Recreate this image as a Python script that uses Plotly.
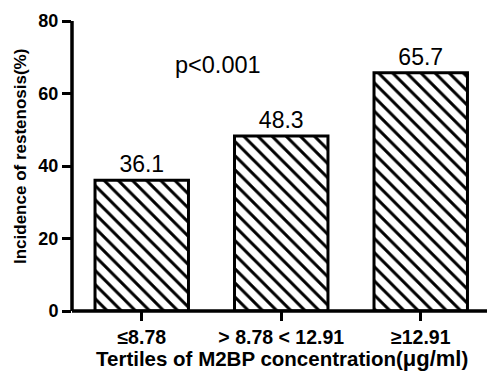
import plotly.graph_objects as go

categories = ["≤8.78", "> 8.78 < 12.91", "≥12.91"]
values = [36.1, 48.3, 65.7]
value_labels = ["36.1", "48.3", "65.7"]
y_ticks = [0, 20, 40, 60, 80]

FONT = "Liberation Sans, Arial, sans-serif"

W, H = 487, 373
ML, MR, MT, MB = 72, 0, 21, 62
plot_h = H - MT - MB
plot_w = W - ML - MR

fig = go.Figure()
fig.add_trace(go.Bar(
    x=list(range(len(categories))),
    y=values,
    width=0.67,
    marker=dict(
        color="white",
        line=dict(color="black", width=3),
        pattern=dict(shape="\\", size=10, solidity=0.3, fgcolor="#000000", fgopacity=1, bgcolor="white"),
    ),
    text=value_labels,
    textposition="outside",
    textfont=dict(family=FONT, size=23, color="black"),
    cliponaxis=False,
))

fig.add_annotation(x=0.545, y=68, xref="x", yref="y", text="p<0.001", showarrow=False,
                   font=dict(family=FONT, size=23.5, color="black"))

fig.add_annotation(x=(20 - ML) / plot_w, y=(H - MB - 157) / plot_h, xref="paper", yref="paper",
                   text="Incidence of restenosis(%)", showarrow=False, textangle=-90,
                   xanchor="center", yanchor="middle",
                   font=dict(family=FONT, size=17, color="black", weight="bold"))

fig.add_annotation(x=(282 - ML) / plot_w, y=-(358 - (H - MB)) / plot_h, xref="paper", yref="paper",
                   text="Tertiles of M2BP concentration(<span style='font-size:22px'>μg/ml</span>)",
                   showarrow=False, xanchor="center", yanchor="middle",
                   font=dict(family=FONT, size=20.5, color="black", weight="bold"))

# axis spines
fig.add_shape(type="line", xref="paper", yref="paper", x0=0, x1=0, y0=0, y1=1,
              line=dict(color="#000000", width=3.5), layer="above")
fig.add_shape(type="line", xref="paper", yref="paper", x0=0, x1=1, y0=0, y1=0,
              line=dict(color="#000000", width=3.5), layer="above")

fig.update_layout(
    width=W, height=H,
    margin=dict(l=ML, r=MR, t=MT, b=MB),
    plot_bgcolor="white", paper_bgcolor="white",
    showlegend=False,
    xaxis=dict(
        range=[-0.5, 2.475],
        tickvals=list(range(len(categories))),
        ticktext=categories,
        showline=False,
        ticks="outside", ticklen=9, tickwidth=2.5, tickcolor="#000000",
        showgrid=False, zeroline=False,
        tickfont=dict(family=FONT, size=19.5, color="black", weight="bold"),
    ),
    yaxis=dict(
        range=[0, 80],
        tickvals=y_ticks,
        showline=False,
        ticks="outside", ticklen=9, tickwidth=2.5, tickcolor="#000000",
        showgrid=False, zeroline=False,
        tickfont=dict(family=FONT, size=18, color="black", weight="bold"),
    ),
)

fig.write_html("out.html")
